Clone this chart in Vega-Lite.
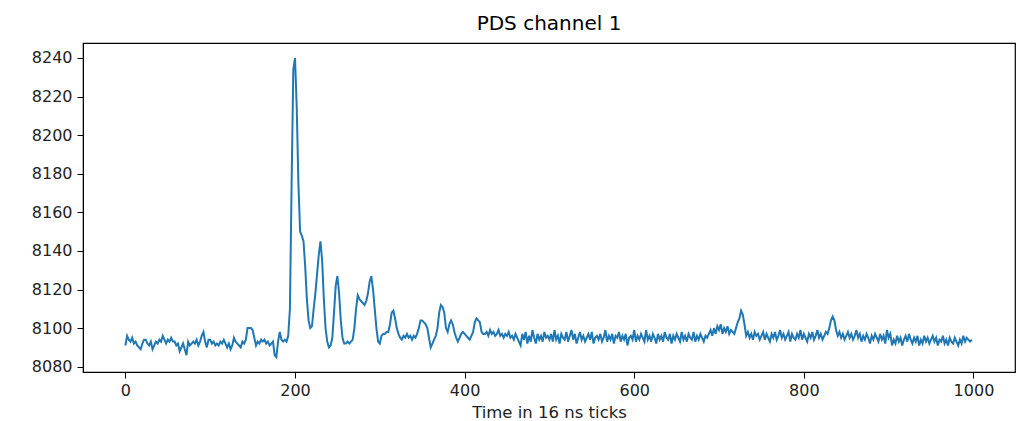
{
"$schema": "https://vega.github.io/schema/vega-lite/v6.json",
"autosize": "none",
"padding": {"left": 83, "top": 43, "right": 14, "bottom": 49},
"width": 932,
"height": 329,
"background": "white",
"config": {"view": {"stroke": "#000000", "strokeWidth": 1.2}, "font": "DejaVu Sans"},
"title": {"text": "PDS channel 1", "fontSize": 20, "fontWeight": "normal", "color": "#000000", "offset": 9, "font": "DejaVu Sans"},
"data": {"values": [
{"x":0,"y":8091},{"x":2,"y":8096},{"x":4,"y":8094},{"x":6,"y":8093},{"x":8,"y":8095},{"x":10,"y":8092},{"x":12,"y":8093},{"x":14,"y":8091},{"x":16,"y":8090},{"x":18,"y":8089},
{"x":20,"y":8092},{"x":22,"y":8094},{"x":24,"y":8094},{"x":26,"y":8092},{"x":28,"y":8091},{"x":30,"y":8093},{"x":32,"y":8089},{"x":34,"y":8091},{"x":36,"y":8093},{"x":38,"y":8092},
{"x":40,"y":8094},{"x":42,"y":8093},{"x":44,"y":8096},{"x":46,"y":8094},{"x":48,"y":8092},{"x":50,"y":8094},{"x":52,"y":8093},{"x":54,"y":8095},{"x":56,"y":8093},{"x":58,"y":8093},
{"x":60,"y":8091},{"x":62,"y":8092},{"x":64,"y":8088},{"x":66,"y":8090},{"x":68,"y":8092},{"x":70,"y":8089},{"x":72,"y":8086},{"x":74,"y":8093},{"x":76,"y":8091},{"x":78,"y":8092},
{"x":80,"y":8093},{"x":82,"y":8092},{"x":84,"y":8094},{"x":86,"y":8091},{"x":88,"y":8093},{"x":90,"y":8096},{"x":92,"y":8098},{"x":94,"y":8093},{"x":96,"y":8090},{"x":98,"y":8094},
{"x":100,"y":8094},{"x":102,"y":8092},{"x":104,"y":8093},{"x":106,"y":8091},{"x":108,"y":8092},{"x":110,"y":8091},{"x":112,"y":8093},{"x":114,"y":8092},{"x":116,"y":8094},{"x":118,"y":8092},
{"x":120,"y":8090},{"x":122,"y":8092},{"x":124,"y":8089},{"x":126,"y":8091},{"x":128,"y":8095},{"x":130,"y":8093},{"x":132,"y":8092},{"x":134,"y":8091},{"x":136,"y":8090},{"x":138,"y":8093},
{"x":140,"y":8092},{"x":142,"y":8094},{"x":144,"y":8100},{"x":146,"y":8100},{"x":148,"y":8100},{"x":150,"y":8099},{"x":152,"y":8095},{"x":154,"y":8091},{"x":156,"y":8093},{"x":158,"y":8092},
{"x":160,"y":8094},{"x":162,"y":8093},{"x":164,"y":8094},{"x":166,"y":8092},{"x":168,"y":8093},{"x":170,"y":8091},{"x":172,"y":8092},{"x":174,"y":8093},{"x":176,"y":8086},{"x":178,"y":8085},
{"x":180,"y":8093},{"x":182,"y":8098},{"x":184,"y":8094},{"x":186,"y":8093},{"x":188,"y":8094},{"x":190,"y":8093},{"x":192,"y":8096},{"x":194,"y":8110},{"x":196,"y":8175},{"x":198,"y":8234},
{"x":200,"y":8240},{"x":202,"y":8215},{"x":204,"y":8175},{"x":206,"y":8150},{"x":208,"y":8148},{"x":210,"y":8145},{"x":212,"y":8132},{"x":214,"y":8115},{"x":216,"y":8104},{"x":218,"y":8100},
{"x":220,"y":8101},{"x":222,"y":8110},{"x":224,"y":8118},{"x":226,"y":8128},{"x":228,"y":8138},{"x":230,"y":8145},{"x":232,"y":8135},{"x":234,"y":8115},{"x":236,"y":8100},{"x":238,"y":8093},
{"x":240,"y":8090},{"x":242,"y":8091},{"x":244,"y":8095},{"x":246,"y":8108},{"x":248,"y":8122},{"x":250,"y":8127},{"x":252,"y":8118},{"x":254,"y":8104},{"x":256,"y":8095},{"x":258,"y":8092},
{"x":260,"y":8092},{"x":262,"y":8093},{"x":264,"y":8092},{"x":266,"y":8093},{"x":268,"y":8094},{"x":270,"y":8100},{"x":272,"y":8110},{"x":274,"y":8117},{"x":276,"y":8115},{"x":278,"y":8114},
{"x":280,"y":8113},{"x":282,"y":8112},{"x":284,"y":8114},{"x":286,"y":8118},{"x":288,"y":8124},{"x":290,"y":8127},{"x":292,"y":8120},{"x":294,"y":8110},{"x":296,"y":8100},{"x":298,"y":8093},
{"x":300,"y":8092},{"x":302,"y":8096},{"x":304,"y":8097},{"x":306,"y":8097},{"x":308,"y":8098},{"x":310,"y":8098},{"x":312,"y":8102},{"x":314,"y":8108},{"x":316,"y":8109},{"x":318,"y":8105},
{"x":320,"y":8100},{"x":322,"y":8097},{"x":324,"y":8095},{"x":326,"y":8094},{"x":328,"y":8096},{"x":330,"y":8095},{"x":332,"y":8097},{"x":334,"y":8095},{"x":336,"y":8096},{"x":338,"y":8094},
{"x":340,"y":8096},{"x":342,"y":8095},{"x":344,"y":8097},{"x":346,"y":8100},{"x":348,"y":8104},{"x":350,"y":8104},{"x":352,"y":8103},{"x":354,"y":8102},{"x":356,"y":8100},{"x":358,"y":8095},
{"x":360,"y":8090},{"x":362,"y":8092},{"x":364,"y":8094},{"x":366,"y":8096},{"x":368,"y":8100},{"x":370,"y":8108},{"x":372,"y":8112},{"x":374,"y":8111},{"x":376,"y":8108},{"x":378,"y":8100},
{"x":380,"y":8098},{"x":382,"y":8102},{"x":384,"y":8104},{"x":386,"y":8102},{"x":388,"y":8098},{"x":390,"y":8095},{"x":392,"y":8093},{"x":394,"y":8095},{"x":396,"y":8097},{"x":398,"y":8098},
{"x":400,"y":8097},{"x":402,"y":8096},{"x":404,"y":8095},{"x":406,"y":8094},{"x":408,"y":8096},{"x":410,"y":8098},{"x":412,"y":8103},{"x":414,"y":8105},{"x":416,"y":8104},{"x":418,"y":8103},
{"x":420,"y":8098},{"x":422,"y":8097},{"x":424,"y":8097},{"x":426,"y":8098},{"x":428,"y":8096},{"x":430,"y":8099},{"x":432,"y":8097},{"x":434,"y":8098},{"x":436,"y":8096},{"x":438,"y":8097},
{"x":440,"y":8099},{"x":442,"y":8096},{"x":444,"y":8097},{"x":446,"y":8095},{"x":448,"y":8097},{"x":450,"y":8096},{"x":452,"y":8098},{"x":454,"y":8095},{"x":456,"y":8096},{"x":458,"y":8094},
{"x":460,"y":8097},{"x":462,"y":8095},{"x":464,"y":8093},{"x":466,"y":8091},{"x":468,"y":8097},{"x":470,"y":8094},{"x":472,"y":8098},{"x":474,"y":8092},{"x":476,"y":8096},{"x":478,"y":8093},
{"x":480,"y":8099},{"x":482,"y":8095},{"x":484,"y":8092},{"x":486,"y":8097},{"x":488,"y":8094},{"x":490,"y":8096},{"x":492,"y":8093},{"x":494,"y":8098},{"x":496,"y":8095},{"x":498,"y":8096},
{"x":500,"y":8094},{"x":502,"y":8097},{"x":504,"y":8093},{"x":506,"y":8099},{"x":508,"y":8094},{"x":510,"y":8096},{"x":512,"y":8092},{"x":514,"y":8097},{"x":516,"y":8095},{"x":518,"y":8094},
{"x":520,"y":8098},{"x":522,"y":8093},{"x":524,"y":8096},{"x":526,"y":8099},{"x":528,"y":8094},{"x":530,"y":8097},{"x":532,"y":8092},{"x":534,"y":8095},{"x":536,"y":8098},{"x":538,"y":8094},
{"x":540,"y":8096},{"x":542,"y":8093},{"x":544,"y":8095},{"x":546,"y":8097},{"x":548,"y":8094},{"x":550,"y":8098},{"x":552,"y":8092},{"x":554,"y":8095},{"x":556,"y":8096},{"x":558,"y":8094},
{"x":560,"y":8097},{"x":562,"y":8093},{"x":564,"y":8095},{"x":566,"y":8099},{"x":568,"y":8093},{"x":570,"y":8096},{"x":572,"y":8094},{"x":574,"y":8097},{"x":576,"y":8092},{"x":578,"y":8096},
{"x":580,"y":8095},{"x":582,"y":8098},{"x":584,"y":8093},{"x":586,"y":8096},{"x":588,"y":8094},{"x":590,"y":8097},{"x":592,"y":8091},{"x":594,"y":8095},{"x":596,"y":8096},{"x":598,"y":8094},
{"x":600,"y":8099},{"x":602,"y":8093},{"x":604,"y":8096},{"x":606,"y":8094},{"x":608,"y":8097},{"x":610,"y":8095},{"x":612,"y":8093},{"x":614,"y":8099},{"x":616,"y":8094},{"x":618,"y":8096},
{"x":620,"y":8093},{"x":622,"y":8097},{"x":624,"y":8095},{"x":626,"y":8092},{"x":628,"y":8097},{"x":630,"y":8094},{"x":632,"y":8096},{"x":634,"y":8093},{"x":636,"y":8098},{"x":638,"y":8095},
{"x":640,"y":8094},{"x":642,"y":8097},{"x":644,"y":8092},{"x":646,"y":8096},{"x":648,"y":8094},{"x":650,"y":8097},{"x":652,"y":8095},{"x":654,"y":8093},{"x":656,"y":8098},{"x":658,"y":8094},
{"x":660,"y":8096},{"x":662,"y":8093},{"x":664,"y":8097},{"x":666,"y":8095},{"x":668,"y":8094},{"x":670,"y":8098},{"x":672,"y":8093},{"x":674,"y":8096},{"x":676,"y":8094},{"x":678,"y":8097},
{"x":680,"y":8095},{"x":682,"y":8093},{"x":684,"y":8096},{"x":686,"y":8095},{"x":688,"y":8097},{"x":690,"y":8099},{"x":692,"y":8096},{"x":694,"y":8100},{"x":696,"y":8097},{"x":698,"y":8101},
{"x":700,"y":8099},{"x":702,"y":8102},{"x":704,"y":8097},{"x":706,"y":8100},{"x":708,"y":8098},{"x":710,"y":8101},{"x":712,"y":8097},{"x":714,"y":8099},{"x":716,"y":8098},{"x":718,"y":8097},
{"x":720,"y":8100},{"x":722,"y":8103},{"x":724,"y":8105},{"x":726,"y":8109},{"x":728,"y":8107},{"x":730,"y":8102},{"x":732,"y":8096},{"x":734,"y":8098},{"x":736,"y":8095},{"x":738,"y":8097},
{"x":740,"y":8094},{"x":742,"y":8098},{"x":744,"y":8096},{"x":746,"y":8097},{"x":748,"y":8094},{"x":750,"y":8096},{"x":752,"y":8098},{"x":754,"y":8094},{"x":756,"y":8097},{"x":758,"y":8095},
{"x":760,"y":8093},{"x":762,"y":8097},{"x":764,"y":8095},{"x":766,"y":8098},{"x":768,"y":8094},{"x":770,"y":8096},{"x":772,"y":8099},{"x":774,"y":8095},{"x":776,"y":8097},{"x":778,"y":8094},
{"x":780,"y":8096},{"x":782,"y":8098},{"x":784,"y":8093},{"x":786,"y":8097},{"x":788,"y":8095},{"x":790,"y":8094},{"x":792,"y":8097},{"x":794,"y":8095},{"x":796,"y":8099},{"x":798,"y":8094},
{"x":800,"y":8097},{"x":802,"y":8095},{"x":804,"y":8093},{"x":806,"y":8097},{"x":808,"y":8095},{"x":810,"y":8098},{"x":812,"y":8094},{"x":814,"y":8096},{"x":816,"y":8099},{"x":818,"y":8095},
{"x":820,"y":8097},{"x":822,"y":8094},{"x":824,"y":8096},{"x":826,"y":8098},{"x":828,"y":8097},{"x":830,"y":8100},{"x":832,"y":8104},{"x":834,"y":8106},{"x":836,"y":8104},{"x":838,"y":8099},
{"x":840,"y":8096},{"x":842,"y":8098},{"x":844,"y":8095},{"x":846,"y":8097},{"x":848,"y":8094},{"x":850,"y":8096},{"x":852,"y":8098},{"x":854,"y":8095},{"x":856,"y":8097},{"x":858,"y":8094},
{"x":860,"y":8096},{"x":862,"y":8099},{"x":864,"y":8095},{"x":866,"y":8097},{"x":868,"y":8093},{"x":870,"y":8096},{"x":872,"y":8094},{"x":874,"y":8097},{"x":876,"y":8095},{"x":878,"y":8092},
{"x":880,"y":8096},{"x":882,"y":8094},{"x":884,"y":8097},{"x":886,"y":8095},{"x":888,"y":8093},{"x":890,"y":8097},{"x":892,"y":8094},{"x":894,"y":8096},{"x":896,"y":8092},{"x":898,"y":8099},
{"x":900,"y":8095},{"x":902,"y":8097},{"x":904,"y":8091},{"x":906,"y":8094},{"x":908,"y":8092},{"x":910,"y":8096},{"x":912,"y":8093},{"x":914,"y":8095},{"x":916,"y":8091},{"x":918,"y":8094},
{"x":920,"y":8096},{"x":922,"y":8093},{"x":924,"y":8097},{"x":926,"y":8094},{"x":928,"y":8092},{"x":930,"y":8095},{"x":932,"y":8093},{"x":934,"y":8096},{"x":936,"y":8091},{"x":938,"y":8094},
{"x":940,"y":8092},{"x":942,"y":8096},{"x":944,"y":8093},{"x":946,"y":8095},{"x":948,"y":8092},{"x":950,"y":8094},{"x":952,"y":8096},{"x":954,"y":8093},{"x":956,"y":8095},{"x":958,"y":8091},
{"x":960,"y":8094},{"x":962,"y":8093},{"x":964,"y":8096},{"x":966,"y":8092},{"x":968,"y":8094},{"x":970,"y":8091},{"x":972,"y":8095},{"x":974,"y":8093},{"x":976,"y":8092},{"x":978,"y":8095},
{"x":980,"y":8093},{"x":982,"y":8091},{"x":984,"y":8094},{"x":986,"y":8092},{"x":988,"y":8096},{"x":990,"y":8093},{"x":992,"y":8095},{"x":994,"y":8094},{"x":996,"y":8093},{"x":998,"y":8094}
]},
"mark": {"type": "line", "color": "#1f77b4", "strokeWidth": 2, "clip": true},
"encoding": {
"x": {"field": "x", "type": "quantitative", "title": "Time in 16 ns ticks",
"scale": {"domain": [-50, 1049], "nice": false, "zero": false},
"axis": {"values": [0, 200, 400, 600, 800, 1000], "format": "d", "grid": false, "domainColor": "#000000", "tickColor": "#000000", "tickSize": 6, "labelPadding": 4, "labelFontSize": 16, "labelColor": "#222222", "labelFont": "DejaVu Sans", "titleFont": "DejaVu Sans", "titleFontSize": 16.5, "titleFontWeight": "normal", "titleColor": "#222222", "titlePadding": 6}},
"y": {"field": "y", "type": "quantitative", "title": null,
"scale": {"domain": [8077.25, 8247.75], "nice": false, "zero": false},
"axis": {"values": [8080, 8100, 8120, 8140, 8160, 8180, 8200, 8220, 8240], "format": "d", "grid": false, "domainColor": "#000000", "tickColor": "#000000", "tickSize": 6, "labelPadding": 5, "labelFontSize": 16, "labelColor": "#222222", "labelFont": "DejaVu Sans"}}
}
}
